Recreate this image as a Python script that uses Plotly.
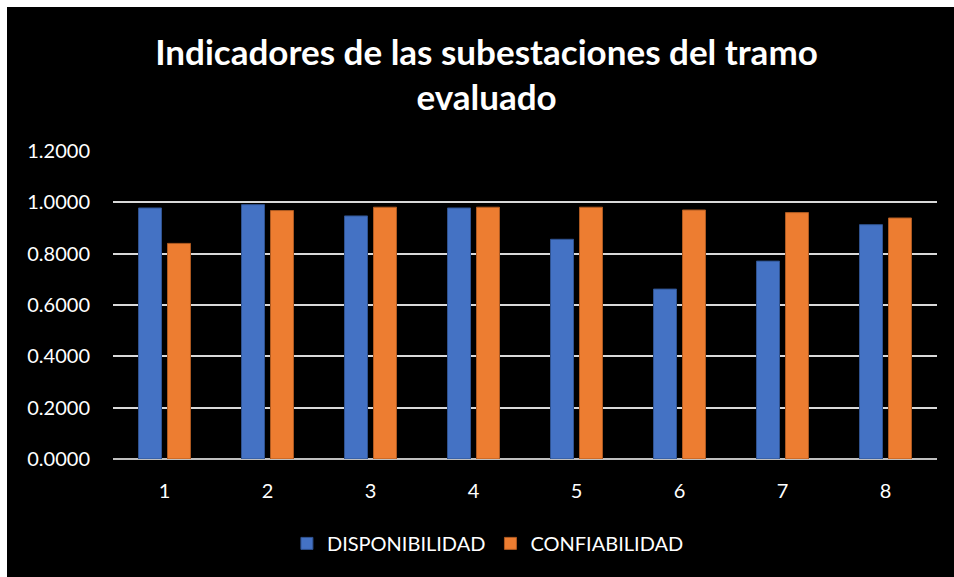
import plotly.graph_objects as go

categories = ["1", "2", "3", "4", "5", "6", "7", "8"]
disponibilidad = [0.978, 0.991, 0.947, 0.978, 0.856, 0.662, 0.771, 0.913]
confiabilidad = [0.840, 0.968, 0.981, 0.981, 0.981, 0.970, 0.960, 0.939]
y_ticks = [0, 0.2, 0.4, 0.6, 0.8, 1.0, 1.2]

fig = go.Figure()

fig.add_trace(go.Bar(
    x=categories, y=disponibilidad, name="DISPONIBILIDAD",
    marker=dict(color="#4472C4", line=dict(color="#2F528F", width=1))
))
fig.add_trace(go.Bar(
    x=categories, y=confiabilidad, name="CONFIABILIDAD",
    marker=dict(color="#ED7D31", line=dict(color="#AE5A21", width=1))
))

# black chart panel, leaving a thin light frame at top/left
fig.add_shape(type="rect", xref="paper", yref="paper", layer="below",
              x0=-106 / 824, x1=1.05, y0=-0.45, y1=452 / 308,
              fillcolor="black", line=dict(width=0))

fig.update_layout(
    width=954, height=577,
    paper_bgcolor="white", plot_bgcolor="black",
    margin=dict(l=113, r=17, t=151, b=118),
    title=dict(
        text="<b>Indicadores de las subestaciones del tramo<br>evaluado</b>",
        x=0.510, xanchor="center", y=0.8875, yanchor="middle",
        font=dict(family="Lato", size=35, color="white")
    ),
    font=dict(family="Lato", size=20, color="white"),
    barmode="group", bargap=0.437, bargroupgap=0.207,
    legend=dict(orientation="h", x=0.455, xanchor="center", y=-0.274, yanchor="middle",
                font=dict(size=20, color="white"), bgcolor="rgba(0,0,0,0)"),
    xaxis=dict(showgrid=False, tickfont=dict(size=20), ticks="",
               ticklabelstandoff=18),
    yaxis=dict(range=[0, 1.2], tickvals=y_ticks, tickformat=".4f",
               gridcolor="#D9D9D9", gridwidth=1.5, zeroline=True,
               zerolinecolor="#BFBFBF", zerolinewidth=2,
               tickfont=dict(size=20), ticks="", ticklabelstandoff=22)
)

fig.write_html("out.html", config={"displayModeBar": False},
               post_script="document.body.style.margin='0';document.body.style.overflow='hidden';")
